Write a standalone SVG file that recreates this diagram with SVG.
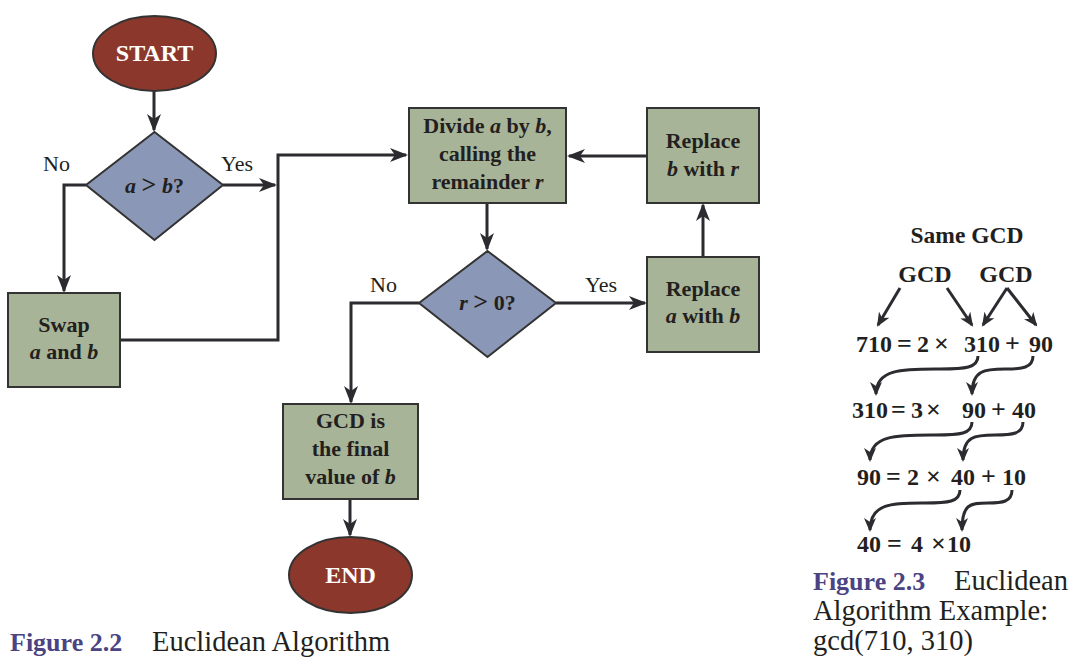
<svg xmlns="http://www.w3.org/2000/svg" width="1075" height="669" viewBox="0 0 1075 669">
<style>
.term{fill:#8b372b;stroke:#333;stroke-width:2}
.dec{fill:#8a97b6;stroke:#333;stroke-width:2}
.proc{fill:#a8b497;stroke:#333;stroke-width:2}
.t{font-family:"Liberation Serif","Times New Roman",serif;font-weight:bold;font-size:22px;fill:#231f20;text-anchor:middle}
.tw{font-family:"Liberation Serif","Times New Roman",serif;font-weight:bold;font-size:24px;fill:#ffffff;text-anchor:middle}
.lbl{font-family:"Liberation Serif","Times New Roman",serif;font-size:22px;fill:#231f20}
.conn{fill:none;stroke:#2b2b30;stroke-width:3;marker-end:url(#ah)}
.eq{font-family:"Liberation Serif","Times New Roman",serif;font-weight:bold;font-size:24px;fill:#231f20}
.op{font-size:26px}
.gt{font-size:26px}
.carr{fill:none;stroke:#2b2b30;stroke-width:3;marker-end:url(#ah2)}
.capb{font-family:"Liberation Serif","Times New Roman",serif;font-weight:bold;font-size:26px;fill:#4b4382}
.cap{font-family:"Liberation Serif","Times New Roman",serif;font-size:28.5px;fill:#231f20}
</style>
<defs>
<marker id="ah" markerUnits="userSpaceOnUse" markerWidth="20" markerHeight="14" refX="16" refY="7" orient="auto">
<path d="M0,0 L18,7 L0,14 L5,7 z" fill="#2b2b30"/>
</marker>
<marker id="ah2" markerUnits="userSpaceOnUse" markerWidth="16" markerHeight="12" refX="12" refY="6" orient="auto">
<path d="M0,0 L14,6 L0,12 L4,6 z" fill="#2b2b30"/>
</marker>
</defs>
<rect width="1075" height="669" fill="#ffffff"/>

<g id="connectors">
<path class="conn" d="M154,91 L154,130"/>
<path class="conn" d="M86,185 L64,185 L64,291"/>
<path class="conn" d="M223,185 L275,185"/>
<path class="conn" d="M120,340 L278,340 L278,155 L406,155"/>
<path class="conn" d="M647,156 L569,156"/>
<path class="conn" d="M487,203 L487,249"/>
<path class="conn" d="M556,303 L645,303"/>
<path class="conn" d="M703,257 L703,205"/>
<path class="conn" d="M419,303 L351,303 L351,402"/>
<path class="conn" d="M350,499 L350,535"/>
</g>

<g id="start">
<ellipse class="term" cx="154.5" cy="53.5" rx="61.5" ry="37.5"/>
<text class="tw" x="154.5" y="61">START</text>
</g>
<g id="dec1">
<polygon class="dec" points="154.5,132 223,185 154.5,240 86,185"/>
<text class="t" x="154.5" y="193"><tspan font-style="italic">a</tspan> <tspan class="gt">&gt;</tspan> <tspan font-style="italic">b</tspan>?</text>
</g>
<text class="lbl" x="43" y="171">No</text>
<text class="lbl" x="221" y="171">Yes</text>
<g id="swap">
<rect class="proc" x="8" y="293" width="112" height="94"/>
<text class="t" x="64" y="332">Swap</text>
<text class="t" x="64" y="359"><tspan font-style="italic">a</tspan> and <tspan font-style="italic">b</tspan></text>
</g>
<g id="divide">
<rect class="proc" x="409" y="108" width="157" height="95"/>
<text class="t" x="487.5" y="133">Divide <tspan font-style="italic">a</tspan> by <tspan font-style="italic">b</tspan>,</text>
<text class="t" x="487.5" y="161">calling the</text>
<text class="t" x="487.5" y="189">remainder <tspan font-style="italic">r</tspan></text>
</g>
<g id="replaceb">
<rect class="proc" x="647" y="108" width="112" height="95"/>
<text class="t" x="703" y="148">Replace</text>
<text class="t" x="703" y="176"><tspan font-style="italic">b</tspan> with <tspan font-style="italic">r</tspan></text>
</g>
<g id="dec2">
<polygon class="dec" points="487.5,251 556,303 487.5,357 419,303"/>
<text class="t" x="487.5" y="310"><tspan font-style="italic">r</tspan> <tspan class="gt">&gt;</tspan> 0?</text>
</g>
<text class="lbl" x="370" y="292">No</text>
<text class="lbl" x="585" y="292">Yes</text>
<g id="replacea">
<rect class="proc" x="647" y="257" width="112" height="95"/>
<text class="t" x="703" y="296">Replace</text>
<text class="t" x="703" y="323"><tspan font-style="italic">a</tspan> with <tspan font-style="italic">b</tspan></text>
</g>
<g id="gcd">
<rect class="proc" x="283" y="404" width="135" height="95"/>
<text class="t" x="350.5" y="428">GCD is</text>
<text class="t" x="350.5" y="456">the final</text>
<text class="t" x="350.5" y="484">value of <tspan font-style="italic">b</tspan></text>
</g>
<g id="end">
<ellipse class="term" cx="350.5" cy="575" rx="61.5" ry="38"/>
<text class="tw" x="350.5" y="583">END</text>
</g>
<text x="10" y="651"><tspan class="capb">Figure 2.2</tspan><tspan class="cap" x="152">Euclidean Algorithm</tspan></text>

<g id="example">
<text class="eq" x="967" y="243" text-anchor="middle" style="font-size:23.5px">Same GCD</text>
<text class="eq" x="925" y="282" text-anchor="middle">GCD</text>
<text class="eq" x="1006" y="282" text-anchor="middle">GCD</text>
<text class="eq" y="352"><tspan x="856">710</tspan><tspan class="op" x="897">=</tspan><tspan x="917">2</tspan><tspan class="op" x="934">×</tspan><tspan x="964">310</tspan><tspan class="op" x="1005">+</tspan><tspan x="1029">90</tspan></text>
<text class="eq" y="418"><tspan x="852">310</tspan><tspan class="op" x="891">=</tspan><tspan x="911">3</tspan><tspan class="op" x="926">×</tspan><tspan x="962">90</tspan><tspan class="op" x="991">+</tspan><tspan x="1012">40</tspan></text>
<text class="eq" y="485"><tspan x="857">90</tspan><tspan class="op" x="886">=</tspan><tspan x="907">2</tspan><tspan class="op" x="926">×</tspan><tspan x="951">40</tspan><tspan class="op" x="981">+</tspan><tspan x="1002">10</tspan></text>
<text class="eq" y="552"><tspan x="857">40</tspan><tspan class="op" x="887">=</tspan><tspan x="911">4</tspan><tspan class="op" x="931">×</tspan><tspan x="947">10</tspan></text>
</g>
<g id="example-arrows">
<path class="carr" d="M900,288 L878,325"/>
<path class="carr" d="M947,288 L972,325"/>
<path class="carr" d="M1007,288 L983,325"/>
<path class="carr" d="M1007,288 L1036,325"/>
<path class="carr" d="M978,356 C978,368 965,369 940,369 C905,369 876,368 876,394"/>
<path class="carr" d="M1033,356 C1033,368 1022,369 1005,369 C985,369 972,370 972,394"/>
<path class="carr" d="M972,422 C972,434 960,435 935,435 C900,435 870,434 870,460"/>
<path class="carr" d="M1023,422 C1023,434 1012,435 995,435 C975,435 963,436 963,460"/>
<path class="carr" d="M960,490 C960,502 948,503 925,503 C895,503 870,502 870,530"/>
<path class="carr" d="M1012,490 C1012,502 1002,503 988,503 C970,503 962,504 962,530"/>
</g>
<text class="capb" x="813" y="590">Figure 2.3</text>
<text class="cap" x="954" y="590">Euclidean</text>
<text class="cap" x="813" y="620">Algorithm Example:</text>
<text class="cap" x="813" y="650">gcd(710, 310)</text>
</svg>
